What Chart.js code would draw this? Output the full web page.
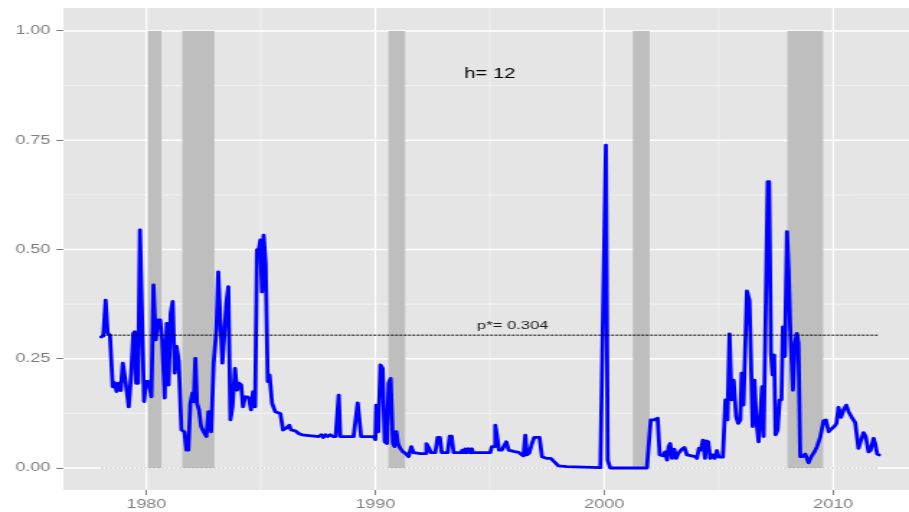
<!DOCTYPE html>
<html>
<head>
<meta charset="utf-8">
<script src="https://cdn.jsdelivr.net/npm/chart.js@4/dist/chart.umd.min.js"></script>
<style>
  html, body { margin: 0; padding: 0; background: #ffffff; overflow: hidden; }
  #c { display: block; }
</style>
</head>
<body>
<canvas id="c" width="631" height="512" style="width:909px;height:512px;"></canvas>
<script>
// Recession probability, horizon h = 12 months
const horizon = 12;
const pStar = 0.304;

const dates = [
  1978.03, 1978.12, 1978.22, 1978.31, 1978.41, 1978.53, 1978.62, 1978.70, 1978.79, 1978.88,
  1978.97, 1979.08, 1979.23, 1979.34, 1979.43, 1979.49, 1979.55, 1979.64, 1979.72, 1979.90,
  1979.99, 1980.10, 1980.22, 1980.31, 1980.41, 1980.51, 1980.60, 1980.69, 1980.80, 1980.89,
  1980.97, 1981.06, 1981.15, 1981.24, 1981.32, 1981.41, 1981.53, 1981.66, 1981.75, 1981.83,
  1981.92, 1982.01, 1982.07, 1982.14, 1982.21, 1982.30, 1982.39, 1982.50, 1982.62, 1982.71,
  1982.83, 1982.94, 1983.06, 1983.14, 1983.23, 1983.32, 1983.41, 1983.49, 1983.58, 1983.67,
  1983.76, 1983.87, 1983.96, 1984.05, 1984.14, 1984.22, 1984.31, 1984.40, 1984.48, 1984.57,
  1984.66, 1984.75, 1984.83, 1984.92, 1984.98, 1985.05, 1985.12, 1985.21, 1985.30, 1985.38,
  1985.49, 1985.63, 1985.85, 1985.97, 1986.11, 1986.24, 1986.32, 1986.51, 1986.65, 1986.80,
  1987.52, 1987.64, 1987.72, 1987.82, 1987.92, 1988.03, 1988.15, 1988.27, 1988.40, 1988.47,
  1989.05, 1989.23, 1989.38, 1989.93, 1990.00, 1990.04, 1990.13, 1990.22, 1990.32, 1990.41,
  1990.51, 1990.58, 1990.67, 1990.77, 1990.84, 1990.92, 1990.99, 1991.09, 1991.21, 1991.31,
  1991.45, 1991.57, 1991.67, 1991.97, 1992.17, 1992.23, 1992.35, 1992.43, 1992.62, 1992.72,
  1992.82, 1992.90, 1993.16, 1993.25, 1993.33, 1993.42, 1993.74, 1993.80, 1993.87, 1993.93,
  1994.00, 1994.07, 1994.15, 1994.22, 1994.26, 1995.02, 1995.09, 1995.20, 1995.24, 1995.32,
  1995.40, 1995.53, 1995.72, 1995.82, 1996.04, 1996.26, 1996.40, 1996.47, 1996.55, 1996.62,
  1996.72, 1996.84, 1996.94, 1997.17, 1997.28, 1997.50, 1997.67, 1997.78, 1998.00, 1998.37,
  1999.83, 2000.07, 2000.15, 2000.26, 2001.86, 2002.03, 2002.18, 2002.33, 2002.42,
  2002.56, 2002.66, 2002.74, 2002.81, 2002.88, 2002.96, 2003.06, 2003.14, 2003.24, 2003.39,
  2003.50, 2003.61, 2003.97, 2004.05, 2004.13, 2004.22, 2004.31, 2004.40, 2004.45, 2004.54,
  2004.63, 2004.72, 2004.82, 2004.92, 2005.00, 2005.18, 2005.29, 2005.38, 2005.47, 2005.56,
  2005.65, 2005.76, 2005.85, 2005.94, 2006.00, 2006.08, 2006.23, 2006.34, 2006.48, 2006.56,
  2006.64, 2006.74, 2006.89, 2006.96, 2007.14, 2007.20, 2007.28, 2007.35, 2007.42, 2007.48,
  2007.57, 2007.66, 2007.74, 2007.80, 2007.89, 2007.98, 2008.05, 2008.12, 2008.24, 2008.33,
  2008.41, 2008.48, 2008.56, 2008.65, 2008.78, 2008.92, 2009.04, 2009.18, 2009.29, 2009.43,
  2009.58, 2009.68, 2009.80, 2009.91, 2010.06, 2010.14, 2010.23, 2010.34, 2010.45, 2010.57,
  2010.67, 2010.81, 2010.96, 2011.10, 2011.22, 2011.32, 2011.42, 2011.54, 2011.63, 2011.76,
  2011.83, 2011.92, 2012.00
];

const probs = [
  0.300, 0.302, 0.384, 0.309, 0.304, 0.186, 0.195, 0.175, 0.194, 0.177,
  0.240, 0.201, 0.140, 0.217, 0.308, 0.312, 0.194, 0.194, 0.545, 0.152,
  0.198, 0.198, 0.163, 0.419, 0.293, 0.339, 0.339, 0.293, 0.160, 0.331,
  0.190, 0.354, 0.381, 0.217, 0.278, 0.247, 0.087, 0.083, 0.041, 0.041,
  0.148, 0.172, 0.152, 0.251, 0.148, 0.133, 0.095, 0.083, 0.072, 0.129,
  0.083, 0.240, 0.316, 0.449, 0.339, 0.240, 0.308, 0.377, 0.415, 0.110,
  0.140, 0.228, 0.178, 0.194, 0.190, 0.140, 0.163, 0.163, 0.160, 0.133,
  0.175, 0.140, 0.499, 0.503, 0.522, 0.403, 0.533, 0.468, 0.198, 0.213,
  0.148, 0.129, 0.125, 0.087, 0.091, 0.098, 0.087, 0.085, 0.079, 0.076,
  0.072, 0.076, 0.070, 0.076, 0.072, 0.076, 0.072, 0.072, 0.167, 0.072,
  0.072, 0.149, 0.072, 0.072, 0.065, 0.144, 0.083, 0.236, 0.228, 0.060,
  0.056, 0.194, 0.205, 0.056, 0.049, 0.083, 0.056, 0.045, 0.037, 0.034,
  0.026, 0.049, 0.035, 0.033, 0.033, 0.056, 0.045, 0.035, 0.035, 0.070,
  0.070, 0.035, 0.035, 0.073, 0.073, 0.035, 0.035, 0.041, 0.035, 0.044,
  0.035, 0.044, 0.035, 0.044, 0.035, 0.035, 0.049, 0.049, 0.098, 0.072,
  0.041, 0.041, 0.060, 0.041, 0.038, 0.036, 0.030, 0.028, 0.075, 0.030,
  0.034, 0.056, 0.070, 0.070, 0.026, 0.022, 0.022, 0.016, 0.005, 0.003,
  0.001, 0.739, 0.018, 0.000, 0.000, 0.110, 0.110, 0.114, 0.030,
  0.028, 0.037, 0.018, 0.049, 0.056, 0.022, 0.043, 0.022, 0.034, 0.043,
  0.047, 0.030, 0.026, 0.022, 0.045, 0.041, 0.064, 0.022, 0.062, 0.060,
  0.022, 0.030, 0.022, 0.040, 0.025, 0.025, 0.156, 0.110, 0.307, 0.156,
  0.201, 0.117, 0.102, 0.110, 0.217, 0.144, 0.405, 0.384, 0.095, 0.201,
  0.110, 0.060, 0.186, 0.072, 0.655, 0.655, 0.262, 0.213, 0.259, 0.076,
  0.087, 0.156, 0.156, 0.323, 0.255, 0.541, 0.453, 0.323, 0.178, 0.285,
  0.308, 0.285, 0.026, 0.026, 0.032, 0.012, 0.026, 0.037, 0.049, 0.070,
  0.108, 0.110, 0.083, 0.089, 0.096, 0.102, 0.139, 0.116, 0.133, 0.144,
  0.129, 0.116, 0.104, 0.045, 0.064, 0.081, 0.072, 0.037, 0.040, 0.068,
  0.056, 0.032, 0.030
];

// NBER recession periods (shaded)
const recStart = [1980.07, 1981.57, 1990.57, 2001.25, 2008.00];
const recEnd   = [1980.66, 1982.97, 1991.30, 2001.98, 2009.56];

// Axis ticks and grid
const xTicks = [1980, 1990, 2000, 2010];
const xMinor = [1985, 1995, 2005];
const yTicks = [0, 0.25, 0.5, 0.75, 1];
const yMinor = [0.125, 0.375, 0.625, 0.875];

const FONT = "'Liberation Sans', Arial, Helvetica, sans-serif";
const first = dates[0], last = dates[dates.length - 1];

const panelPlugin = {
  id: 'panel',
  beforeDatasetsDraw(chart) {
    const { ctx, chartArea: a, scales: { x, y } } = chart;
    ctx.save();
    ctx.fillStyle = '#E5E5E5';
    ctx.fillRect(a.left, a.top, a.right - a.left, a.bottom - a.top);

    // minor grid
    ctx.strokeStyle = '#F2F2F2';
    ctx.lineWidth = 0.8;
    xMinor.forEach(v => {
      const px = x.getPixelForValue(v);
      ctx.beginPath(); ctx.moveTo(px, a.top); ctx.lineTo(px, a.bottom); ctx.stroke();
    });
    ctx.lineWidth = 1;
    yMinor.forEach(v => {
      const py = y.getPixelForValue(v);
      ctx.beginPath(); ctx.moveTo(a.left, py); ctx.lineTo(a.right, py); ctx.stroke();
    });

    // major grid
    ctx.strokeStyle = '#FFFFFF';
    ctx.lineWidth = 1.2;
    xTicks.forEach(v => {
      const px = x.getPixelForValue(v);
      ctx.beginPath(); ctx.moveTo(px, a.top); ctx.lineTo(px, a.bottom); ctx.stroke();
    });
    ctx.lineWidth = 1.6;
    yTicks.forEach(v => {
      const py = y.getPixelForValue(v);
      ctx.beginPath(); ctx.moveTo(a.left, py); ctx.lineTo(a.right, py); ctx.stroke();
    });

    // recession shading
    ctx.fillStyle = '#BEBEBE';
    const yTop = y.getPixelForValue(1), yBot = y.getPixelForValue(0);
    recStart.forEach((s, i) => {
      const x0 = x.getPixelForValue(s), x1 = x.getPixelForValue(recEnd[i]);
      ctx.fillRect(x0, yTop, x1 - x0, yBot - yTop);
    });
    ctx.restore();
  },
  afterDatasetsDraw(chart) {
    const { ctx, scales: { x, y } } = chart;
    ctx.save();
    ctx.fillStyle = '#000000';
    ctx.textAlign = 'center';
    ctx.textBaseline = 'middle';
    ctx.font = '14px ' + FONT;
    ctx.fillText('h= ' + horizon, x.getPixelForValue(1995), y.getPixelForValue(0.902));
    ctx.font = '11.5px ' + FONT;
    ctx.fillStyle = '#1a1a1a';
    ctx.fillText('p*= ' + pStar.toFixed(3), x.getPixelForValue(1996), y.getPixelForValue(0.325));
    ctx.restore();
  }
};

new Chart(document.getElementById('c'), {
  type: 'line',
  data: {
    datasets: [
      {
        data: [{ x: first, y: pStar }, { x: last, y: pStar }],
        borderColor: '#000000', borderWidth: 1, borderDash: [2, 1],
        pointRadius: 0, tension: 0
      },
      {
        data: dates.map((d, i) => ({ x: d, y: probs[i] })),
        borderColor: '#0000FF', borderWidth: 2.8,
        pointRadius: 0, tension: 0, borderJoinStyle: 'round', borderCapStyle: 'round'
      },
      {
        data: [{ x: first, y: 0 }, { x: last, y: 0 }],
        borderColor: '#AFAFAF', borderWidth: 1, borderDash: [1.5, 1.5],
        pointRadius: 0, tension: 0
      }
    ]
  },
  options: {
    responsive: false,
    animation: false,
    devicePixelRatio: 1,
    layout: { padding: { left: 0, right: 0, top: 8, bottom: 0 } },
    plugins: { legend: { display: false }, tooltip: { enabled: false } },
    scales: {
      x: {
        type: 'linear',
        min: 1976.376,
        max: 2013.31,
        afterBuildTicks: s => { s.ticks = xTicks.map(v => ({ value: v })); },
        afterFit: s => { s.height = 22; s.paddingLeft = 0; s.paddingRight = 0; },
        border: { display: false },
        grid: { drawOnChartArea: false, drawTicks: true, tickLength: 5, tickColor: '#7F7F7F', tickWidth: 1 },
        ticks: {
          color: '#7F7F7F', font: { family: FONT, size: 12.5 }, padding: 2,
          maxRotation: 0, autoSkip: false, callback: v => String(v)
        }
      },
      y: {
        type: 'linear',
        min: -0.0503,
        max: 1.0526,
        afterBuildTicks: s => { s.ticks = yTicks.map(v => ({ value: v })); },
        afterFit: s => { s.width = 44; s.paddingTop = 0; s.paddingBottom = 0; },
        border: { display: false },
        grid: { drawOnChartArea: false, drawTicks: true, tickLength: 5, tickColor: '#7F7F7F', tickWidth: 1 },
        ticks: {
          color: '#7F7F7F', font: { family: FONT, size: 12.5 }, padding: 4,
          autoSkip: false, callback: v => Number(v).toFixed(2)
        }
      }
    }
  },
  plugins: [panelPlugin]
});
</script>
</body>
</html>
